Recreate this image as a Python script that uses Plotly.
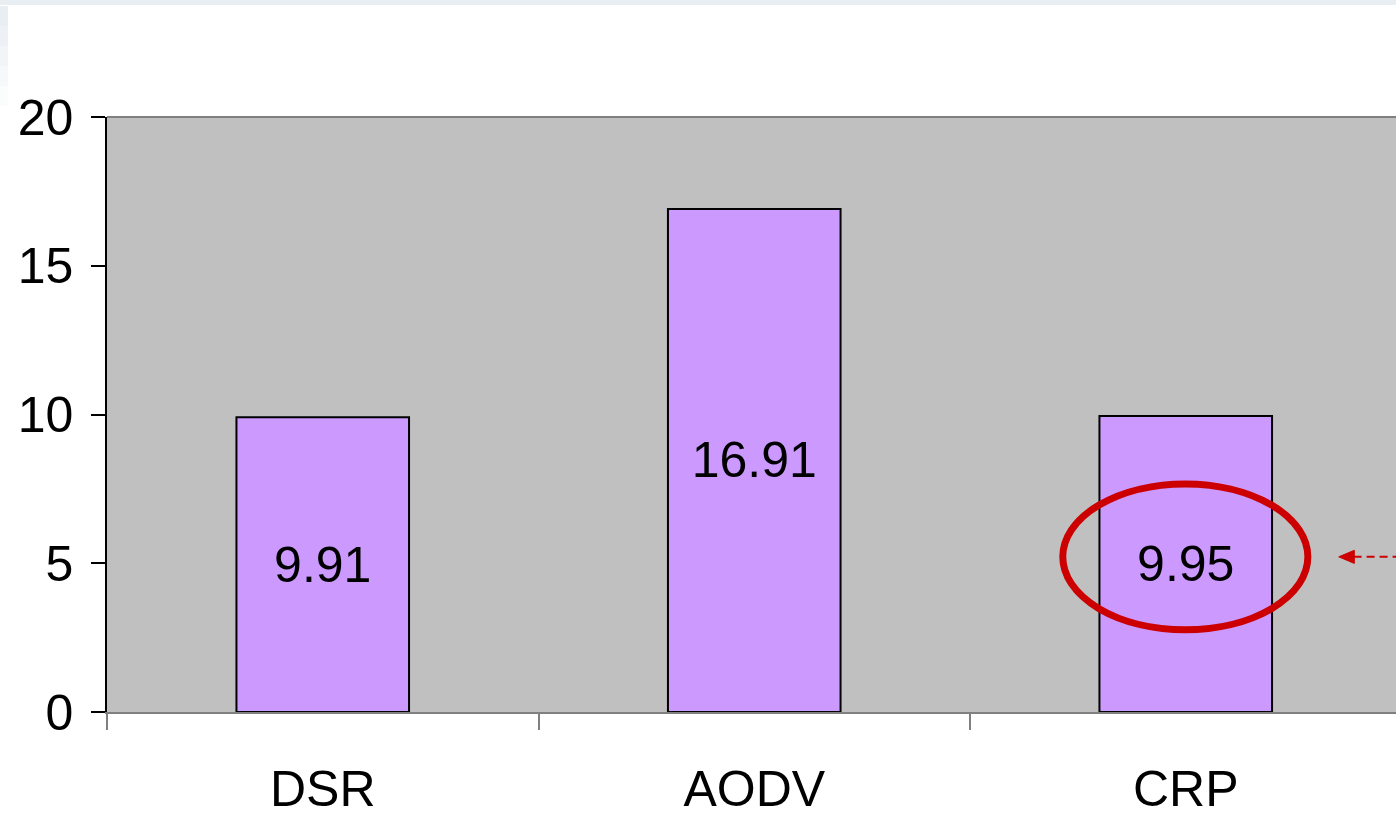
import plotly.graph_objects as go

# Routing protocols and their measured values
protocols = ["DSR", "AODV", "CRP"]
values = [9.91, 16.91, 9.95]
y_ticks = [0, 5, 10, 15, 20]

FONT = "Liberation Sans Narrow, Arial Narrow, Liberation Sans, Arial, sans-serif"
RED = "#CC0000"

fig = go.Figure(
    go.Bar(
        x=protocols,
        y=values,
        width=0.4,
        marker=dict(color="#CC99FF", line=dict(color="black", width=2)),
        text=[f"{v:.2f}" for v in values],
        textposition="inside",
        insidetextanchor="middle",
        textangle=0,
        textfont=dict(family=FONT, size=50, color="black"),
        hoverinfo="skip",
    )
)

# Highlight around the CRP label, with a dashed pointer coming in from the right
hi = protocols.index("CRP")
cy = values[hi] / 2 + 0.24
fig.add_shape(type="circle", xref="x", yref="y",
              x0=hi - 0.285, x1=hi + 0.283, y0=cy - 2.45, y1=cy + 2.45,
              line=dict(color=RED, width=7), layer="above")
fig.add_shape(type="line", xref="x", yref="y",
              x0=hi + 0.389, x1=hi + 0.52, y0=cy, y1=cy,
              line=dict(color=RED, width=2, dash="8px,5px"), layer="above")
tip = hi + 0.3546
fig.add_shape(type="path", xref="x", yref="y",
              path=f"M {tip},{cy} L {tip + 0.036},{cy + 0.22} L {tip + 0.036},{cy - 0.22} Z",
              fillcolor=RED, line=dict(color=RED, width=1), layer="above")

# Plot-area top border
fig.add_shape(type="line", xref="paper", yref="paper", x0=0, x1=1, y0=1, y1=1,
              line=dict(color="#808080", width=2), layer="above")

# Slide backdrop strips (top band and fading left edge)
for i, op in enumerate([1.0, 0.8, 0.6, 0.4, 0.2]):
    fig.add_shape(type="rect", xref="paper", yref="paper",
                  x0=-107 / 1289, x1=-99 / 1289,
                  y0=(595 + 117 - 6 - 20 * (i + 1)) / 595,
                  y1=(595 + 117 - 6 - 20 * i) / 595,
                  fillcolor=f"rgba(233,238,242,{op})", line=dict(width=0), layer="below")
fig.add_shape(type="rect", xref="paper", yref="paper",
              x0=-107 / 1289, x1=1.01, y0=(595 + 117 - 5) / 595, y1=(595 + 117) / 595,
              fillcolor="#E9EEF2", line=dict(width=0), layer="below")

fig.update_layout(
    width=1396, height=817,
    margin=dict(l=107, r=0, t=117, b=105),
    paper_bgcolor="white",
    plot_bgcolor="#C0C0C0",
    showlegend=False,
    bargap=0.6,
    font=dict(family=FONT, size=50, color="black"),
)
fig.update_xaxes(
    type="category",
    range=[-0.5, -0.5 + 1289 / 431.5],
    tickson="boundaries",
    ticks="outside", ticklen=16, tickwidth=1.5, tickcolor="#808080",
    showline=True, linecolor="#808080", linewidth=2,
    showgrid=False, zeroline=False,
    ticklabelstandoff=32,
    automargin=False,
    tickfont=dict(family=FONT, size=50, color="black"),
)
fig.update_yaxes(
    range=[0, 20], tickvals=y_ticks,
    ticks="outside", ticklen=14, tickwidth=1.5, tickcolor="black",
    showline=True, linecolor="black", linewidth=1.5,
    showgrid=False, zeroline=False,
    ticklabelstandoff=8,
    automargin=False,
    tickfont=dict(family=FONT, size=50, color="black"),
)

fig.write_html("out.html")
